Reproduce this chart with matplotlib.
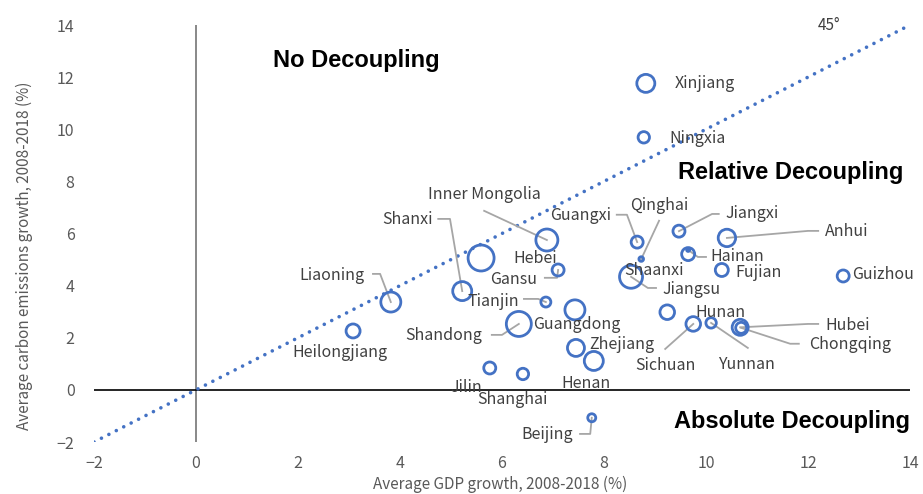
import matplotlib
matplotlib.use("Agg")
import matplotlib.pyplot as plt

# ---------------- data ----------------
provinces = ["Xinjiang", "Ningxia", "Inner Mongolia", "Hebei", "Shanxi", "Liaoning",
             "Heilongjiang", "Gansu", "Tianjin", "Shandong", "Guangdong", "Guangxi",
             "Qinghai", "Shaanxi", "Jiangsu", "Jiangxi", "Anhui", "Hainan", "Fujian",
             "Guizhou", "Hunan", "Sichuan", "Yunnan", "Hubei", "Chongqing", "Zhejiang",
             "Henan", "Jilin", "Shanghai", "Beijing"]
gdp_growth = [8.82, 8.78, 6.88, 5.59, 5.22, 3.82, 3.08, 7.10, 6.86, 6.33, 7.43, 8.65,
              8.73, 9.65, 8.53, 9.47, 10.41, 9.65, 10.31, 12.69, 9.24, 9.75, 10.10,
              10.67, 10.69, 7.45, 7.80, 5.76, 6.41, 7.76]
co2_growth = [11.76, 9.69, 5.75, 5.06, 3.79, 3.37, 2.26, 4.60, 3.37, 2.53, 3.07, 5.67,
              5.02, 5.21, 4.34, 6.09, 5.83, 5.37, 4.60, 4.37, 2.98, 2.53, 2.57,
              2.40, 2.38, 1.61, 1.11, 0.84, 0.61, -1.07]
bubble = [10, 6.7, 12, 14, 10.5, 11, 8, 7, 6, 13.5, 11, 7,
          3.3, 7.5, 12.5, 7, 9.7, 2.5, 7.5, 7, 8.3, 8.3, 6.2,
          9, 6.5, 9.5, 10.5, 7, 6.7, 5]

x_ticks = [-2, 0, 2, 4, 6, 8, 10, 12, 14]
y_ticks = [-2, 0, 2, 4, 6, 8, 10, 12, 14]

# label layout: (label x, label y, ha), optional leader elbow points
label_pos = {
    "Xinjiang": (9.39, 11.76, "left"), "Ningxia": (9.29, 9.66, "left"),
    "Inner Mongolia": (5.65, 7.48, "center"), "Hebei": (6.65, 5.03, "center"),
    "Shanxi": (4.14, 6.52, "center"), "Liaoning": (2.67, 4.37, "center"),
    "Heilongjiang": (2.82, 1.42, "center"), "Gansu": (6.22, 4.22, "center"),
    "Tianjin": (5.82, 3.38, "center"), "Shandong": (4.86, 2.07, "center"),
    "Guangdong": (7.47, 2.50, "center"), "Guangxi": (7.55, 6.68, "center"),
    "Qinghai": (9.08, 7.06, "center"), "Shaanxi": (8.98, 4.58, "center"),
    "Jiangsu": (9.71, 3.84, "center"), "Jiangxi": (10.90, 6.75, "center"),
    "Anhui": (12.76, 6.06, "center"), "Hainan": (10.61, 5.10, "center"),
    "Fujian": (11.04, 4.51, "center"), "Guizhou": (13.48, 4.41, "center"),
    "Hunan": (10.28, 2.95, "center"), "Sichuan": (9.20, 0.92, "center"),
    "Yunnan": (10.80, 0.96, "center"), "Hubei": (12.77, 2.46, "center"),
    "Chongqing": (12.82, 1.73, "center"), "Zhejiang": (8.35, 1.73, "center"),
    "Henan": (7.65, 0.23, "center"), "Jilin": (5.31, 0.08, "center"),
    "Shanghai": (6.20, -0.38, "center"), "Beijing": (6.88, -1.73, "center"),
}
leaders = {
    "Inner Mongolia": [(5.65, 6.87)],
    "Shanxi": [(4.75, 6.56), (4.98, 6.56)],
    "Liaoning": [(3.47, 4.45), (3.61, 4.45)],
    "Gansu": [(6.84, 4.30), (7.08, 4.30)],
    "Tianjin": [(6.43, 3.49), (6.71, 3.49)],
    "Shandong": [(5.80, 2.11), (6.00, 2.11)],
    "Beijing": [(7.53, -1.69), (7.73, -1.69)],
    "Guangxi": [(8.25, 6.72), (8.45, 6.72)],
    "Qinghai": [(9.08, 6.49)],
    "Jiangxi": [(10.25, 6.75), (10.12, 6.75)],
    "Anhui": [(12.20, 6.10), (12.00, 6.10)],
    "Hainan": [(10.00, 5.10), (9.84, 5.10)],
    "Jiangsu": [(9.02, 3.91), (8.86, 3.91)],
    "Hubei": [(12.20, 2.53), (12.00, 2.53)],
    "Chongqing": [(11.82, 1.77), (11.65, 1.77)],
    "Sichuan": [(9.20, 1.57)],
    "Yunnan": [(10.82, 1.61)],
}

# ---------------- style ----------------
plt.rcParams['font.family'] = ['Noto Sans CJK SC', 'DejaVu Sans']
BLUE = "#4472C4"
TXT = "#404040"
TICK = "#595959"

fig = plt.figure(figsize=(9.23, 4.94), dpi=100)
ax = fig.add_axes([94 / 923, 1 - 442 / 494, (910 - 94) / 923, (442 - 25) / 494])
ax.set_xlim(-2, 14)
ax.set_ylim(-2, 14)
for s in ax.spines.values():
    s.set_visible(False)
ax.set_xticks(x_ticks)
ax.set_yticks(y_ticks)
ax.tick_params(length=0, labelsize=11.5, colors=TICK, pad=9)
ax.tick_params(axis='y', pad=14)

# axes through origin
ax.plot([0, 0], [-2, 14], color="#7f7f7f", lw=1.3, zorder=1)
ax.plot([-2, 14], [0, 0], color="black", lw=1.2, zorder=1)

# 45 degree line
ax.plot([-2, 14], [-2, 14], color=BLUE, lw=2.6,
        linestyle=(0, (0.01, 2.3)), dash_capstyle="round", zorder=2)

# leaders
for name, pts in leaders.items():
    i = provinces.index(name)
    xs = [p[0] for p in pts] + [gdp_growth[i]]
    ys = [p[1] for p in pts] + [co2_growth[i]]
    ax.plot(xs, ys, color="#A6A6A6", lw=1.3, zorder=3)

# bubbles
sizes = [(2 * (r - 1.0) * 0.72) ** 2 for r in bubble]
ax.scatter(gdp_growth, co2_growth, s=sizes, facecolors="none",
           edgecolors=BLUE, linewidths=2.0, zorder=4)

# labels
for name in provinces:
    lx, ly, ha = label_pos[name]
    ax.text(lx, ly, name, ha=ha, va="center", fontsize=11.5, color=TXT, zorder=5)

# quadrant labels
qfont = dict(fontsize=17, fontweight="bold", color="black", family=["Liberation Sans", "DejaVu Sans"])
ax.text(3.14, 12.62, "No Decoupling", ha="center", va="center", **qfont)
ax.text(11.67, 8.33, "Relative Decoupling", ha="center", va="center", **qfont)
ax.text(11.69, -1.23, "Absolute Decoupling", ha="center", va="center", **qfont)
ax.text(12.41, 14.0, "45°", ha="center", va="center", fontsize=11, color=TXT)

# axis titles
fig.text(500 / 923, 1 - 484 / 494, "Average GDP growth, 2008-2018 (%)", ha="center",
         va="center", fontsize=11, color=TICK)
fig.text(24 / 923, 1 - 256 / 494, "Average carbon emissions growth, 2008-2018 (%)",
         ha="center", va="center", rotation=90, fontsize=11, color=TICK)

fig.savefig("out.png", dpi=100)
